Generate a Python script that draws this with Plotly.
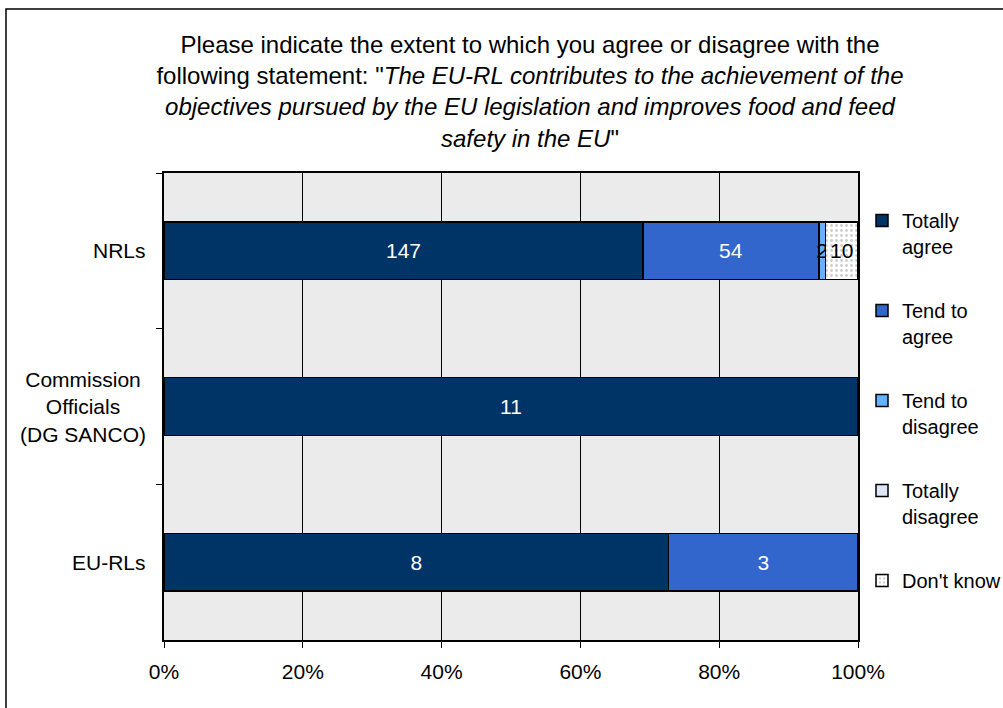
import plotly.graph_objects as go

# Respondent groups (top to bottom) and answer counts per group
categories = ["NRLs", "Commission<br>Officials<br>(DG SANCO)", "EU-RLs"]
totally_agree = [147, 11, 8]
tend_to_agree = [54, 0, 3]
tend_to_disagree = [2, 0, 0]
totally_disagree = [0, 0, 0]
dont_know = [10, 0, 0]

series_names = ["Totally<br>agree", "Tend to<br>agree", "Tend to<br>disagree",
                "Totally<br>disagree", "Don't know"]
series_values = [totally_agree, tend_to_agree, tend_to_disagree, totally_disagree, dont_know]
series_colors = ["#003366", "#3366CC", "#66B2FF", "#DCE6F4", "#FFFFFF"]
label_colors = ["white", "white", "black", "black", "black"]

x_ticks = [0, 20, 40, 60, 80, 100]
x_tick_labels = ["0%", "20%", "40%", "60%", "80%", "100%"]

title_text = ('Please indicate the extent to which you agree or disagree with the<br>'
              'following statement: "<i>The EU-RL contributes to the achievement of the<br>'
              'objectives pursued by the EU legislation and improves food and feed<br>'
              'safety in the EU</i>"')

FONT = "Liberation Sans, Arial, sans-serif"
FS = 21
W, H = 1003, 708
ML, MR, MT, MB = 164, 145, 173, 68
PW, PH = W - ML - MR, H - MT - MB

fig = go.Figure()
for i, (name, vals, col) in enumerate(zip(series_names, series_values, series_colors)):
    marker = dict(color=col, line=dict(color="black", width=1.5))
    if name == "Don't know":
        marker["pattern"] = dict(shape=".", fgcolor="#9A9A9A", bgcolor="white",
                                 size=5, solidity=0.25)
    fig.add_trace(go.Bar(
        y=categories, x=vals, name=name, orientation="h",
        marker=marker,
        text=[str(v) if v else "" for v in vals],
        textposition="inside", insidetextanchor="middle",
        constraintext="none",
        textfont=dict(family=FONT, size=FS, color=label_colors[i]),
        legendgroup=f"g{i}",
        hoverinfo="skip",
    ))

# category labels, centred line by line
for cat in categories:
    fig.add_annotation(x=(148 - ML) / PW, xref="paper", y=cat, yref="y",
                       xanchor="right", yanchor="middle", align="center",
                       text=cat, showarrow=False,
                       font=dict(family=FONT, size=FS, color="black"))

# outer frame of the chart area
fig.add_shape(type="rect", xref="paper", yref="paper",
              x0=(6 - ML) / PW, x1=(W + 10 - ML) / PW,
              y0=(H - MB - (H + 10)) / PH, y1=(H - MB - 9) / PH,
              line=dict(color="black", width=1.5), fillcolor="rgba(0,0,0,0)",
              layer="below")

fig.update_layout(
    width=W, height=H,
    margin=dict(l=ML, r=MR, t=MT, b=MB, autoexpand=False),
    barmode="stack", barnorm="percent", bargap=0.63,
    paper_bgcolor="white", plot_bgcolor="#EBEBEB",
    font=dict(family=FONT, size=FS, color="black"),
    title=dict(text=title_text, x=530 / W, xanchor="center",
               y=1 - 53 / H, yanchor="top",
               font=dict(family=FONT, size=24, color="black")),
    showlegend=True,
    legend=dict(x=(862 - ML) / PW, xanchor="left", y=(H - MB - 201) / PH, yanchor="top",
                traceorder="grouped", tracegroupgap=35, valign="top",
                font=dict(family=FONT, size=20, color="black"),
                bgcolor="rgba(0,0,0,0)", itemwidth=30),
    xaxis=dict(range=[0, 100], tickvals=x_ticks, ticktext=x_tick_labels,
               showgrid=True, gridcolor="black", gridwidth=1,
               showline=True, linecolor="black", linewidth=1.5, mirror=True,
               ticks="outside", ticklen=6, tickcolor="black",
               ticklabelstandoff=6,
               zeroline=False, fixedrange=True),
    yaxis=dict(autorange="reversed", showgrid=False, showticklabels=False,
               showline=True, linecolor="black", linewidth=1.5, mirror=True,
               ticks="outside", ticklen=6, tickcolor="black",
               tickson="boundaries", fixedrange=True),
)

fig.write_html("out.html")
